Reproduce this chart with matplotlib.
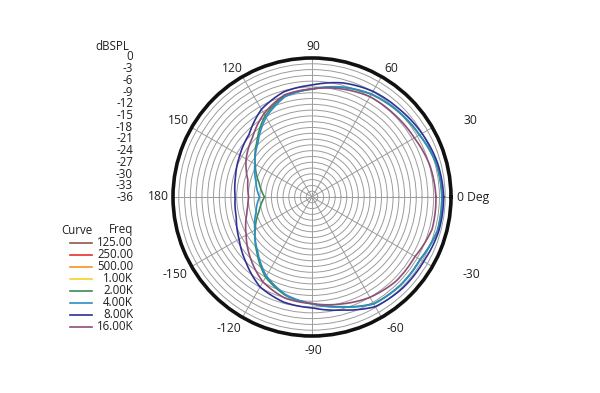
import numpy as np
import matplotlib
matplotlib.use("Agg")
import matplotlib.pyplot as plt
from matplotlib.lines import Line2D

plt.rcParams['font.family'] = ['Open Sans', 'DejaVu Sans']

# ---- data -------------------------------------------------------------
angles_deg = [0, 15, 30, 45, 60, 75, 90, 105, 120, 135, 150, 165, 172, 180,
              188, 195, 210, 225, 240, 255, 270, 285, 300, 315, 330, 345, 360]

spl_125 = [0, 0, 0, 0, 0, 0, 0, 0, 0, 0, 0, 0, 0, 0, 0, 0, 0, 0, 0, 0, 0, 0, 0, 0, 0, 0, 0]
spl_250 = [0, 0, 0, 0, 0, 0, 0, 0, 0, 0, 0, 0, 0, 0, 0, 0, 0, 0, 0, 0, 0, 0, 0, 0, 0, 0, 0]
spl_500 = [0, 0, 0, 0, 0, 0, 0, 0, 0, 0, 0, 0, 0, 0, 0, 0, 0, 0, 0, 0, 0, 0, 0, 0, 0, 0, 0]
spl_1k = [0, 0, 0, 0, 0, 0, 0, 0, 0, 0, 0, 0, 0, 0, 0, 0, 0, 0, 0, 0, 0, 0, 0, 0, 0, 0, 0]
spl_2k = [-2.4, -2.7, -3.9, -4.6, -5.3, -6.6, -8.1, -8.8, -11.7, -15.8, -19.0, -21.8, -22.7, -23.7,
          -22.7, -21.8, -19.0, -15.8, -12.0, -9.6, -8.4, -6.6, -4.1, -3.7, -3.7, -2.4, -2.4]
spl_4k = [-2.3, -2.6, -3.8, -4.5, -5.2, -6.5, -8.0, -9.1, -12.2, -16.2, -18.9, -21.0, -21.6, -22.4,
          -21.6, -21.0, -18.9, -16.1, -12.4, -9.8, -8.3, -6.5, -4.0, -3.6, -3.6, -2.3, -2.3]
spl_8k = [-1.9, -2.3, -3.1, -3.9, -4.4, -5.4, -7.0, -7.8, -9.8, -13.0, -14.4, -15.5, -15.8, -16.1,
          -15.9, -15.7, -14.2, -11.9, -9.1, -7.8, -7.3, -5.7, -3.2, -2.7, -2.6, -2.0, -1.9]
spl_16k = [-3.9, -4.4, -5.4, -5.8, -6.0, -7.0, -8.0, -8.6, -11.1, -14.2, -16.3, -18.8, -19.2, -19.6,
           -19.2, -18.5, -16.3, -13.5, -10.6, -8.9, -8.4, -7.3, -6.0, -5.2, -5.2, -3.8, -3.9]

freq_labels = ["125.00", "250.00", "500.00", "1.00K", "2.00K", "4.00K", "8.00K", "16.00K"]
curve_colors = ["#8c5a48", "#e2312d", "#f7941d", "#f5d327", "#3d8a5a", "#2b8fc6", "#2e3192", "#8e4e78"]
series = [spl_125, spl_250, spl_500, spl_1k, spl_2k, spl_4k, spl_8k, spl_16k]

db_min = -36
scale_labels = ["0", "-3", "-6", "-9", "-12", "-15", "-18", "-21", "-24", "-27", "-30", "-33", "-36"]
angle_label_text = ["0 Deg", "30", "60", "90", "120", "150", "180", "-150", "-120", "-90", "-60", "-30"]

# ---- figure -------------------------------------------------------------
W, H = 600, 393
fig = plt.figure(figsize=(W / 100, H / 100), dpi=100)
txt_color = "#231f20"
fs = 8.3

# overlay axes in pixel coordinates for side texts
pax = fig.add_axes([0, 0, 1, 1])
pax.set_xlim(0, W)
pax.set_ylim(H, 0)
pax.axis("off")

cx, cy, R = 312, 197, 139
ax = fig.add_axes([(cx - R) / W, (H - cy - R) / H, 2 * R / W, 2 * R / H], projection="polar")
ax.set_ylim(0, -db_min)
ax.set_rgrids(np.arange(1.5, -db_min, 1.5))
ax.set_thetagrids(np.arange(0, 360, 30))
ax.set_xticklabels([])
ax.set_yticklabels([])
ax.grid(True, color="#9c9c9c", lw=0.7)
ax.spines["polar"].set_linewidth(2.6)
ax.spines["polar"].set_color("#111111")
ax.set_facecolor("white")

theta = np.deg2rad(angles_deg)
for k, (vals, col) in enumerate(zip(series, curve_colors)):
    line, = ax.plot(theta, np.array(vals) - db_min, color=col, lw=1.2,
                    zorder=1.5 if k < 4 else 2)
    # let the polar transform draw each segment as a smooth arc
    line.get_path()._interpolation_steps = 40

# angle labels (pixel positions)
label_pos = [(473, 197), (470, 121), (391, 68), (313, 46), (232, 68), (178, 121),
             (158, 197), (175, 275), (229, 329), (313, 350), (395, 329), (471, 275)]
for t, (px, py) in zip(angle_label_text, label_pos):
    pax.text(px, py, t, ha="center", va="center", fontsize=fs + 0.4, color=txt_color)

# dBSPL scale
pax.text(129, 47, "dBSPL", ha="right", va="center", fontsize=fs, color=txt_color)
for i, t in enumerate(scale_labels):
    pax.text(133, 57 + i * 11.7, t, ha="right", va="center", fontsize=fs, color=txt_color)

# legend
pax.text(77, 230, "Curve", ha="center", va="center", fontsize=fs, color=txt_color)
pax.text(133, 230, "Freq", ha="right", va="center", fontsize=fs, color=txt_color)
for i, (t, col) in enumerate(zip(freq_labels, curve_colors)):
    y = 243 + i * 12
    pax.add_line(Line2D([70, 92], [y, y], color=col, lw=1.2))
    pax.text(133, y, t, ha="right", va="center", fontsize=fs, color=txt_color)

fig.savefig("out.png", dpi=100)
